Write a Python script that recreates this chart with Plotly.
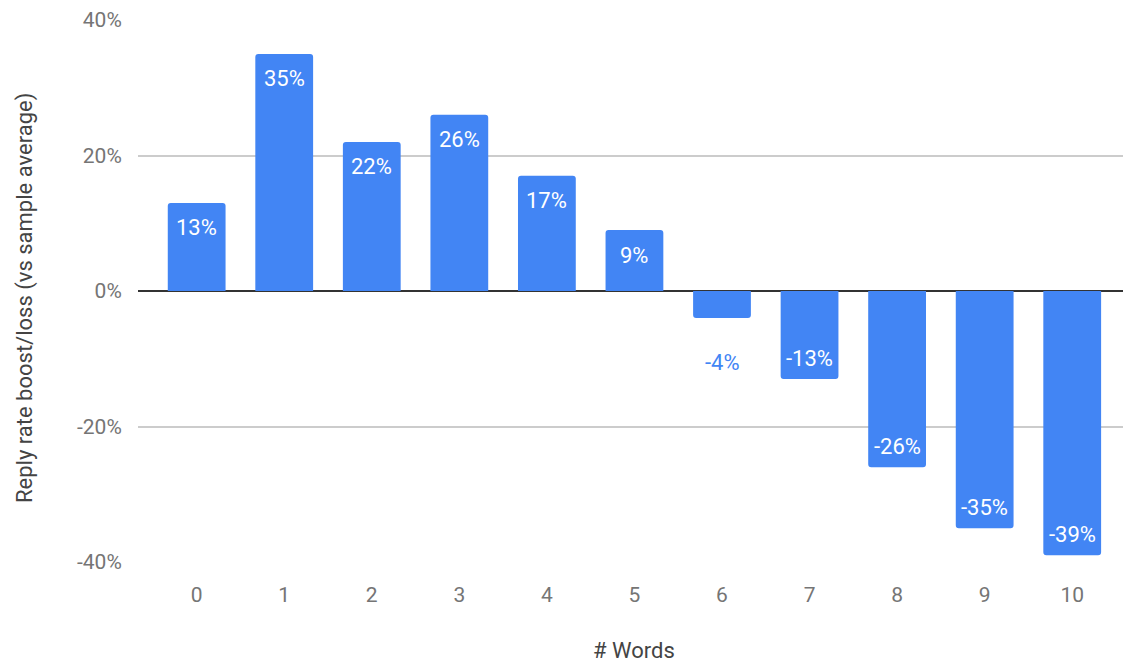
import plotly.graph_objects as go

# Reply-rate change by number of words
words = [0, 1, 2, 3, 4, 5, 6, 7, 8, 9, 10]
boost = [0.13, 0.35, 0.22, 0.26, 0.17, 0.09, -0.04, -0.13, -0.26, -0.35, -0.39]
y_ticks = [-0.4, -0.2, 0.0, 0.2, 0.4]
y_tick_text = ["-40%", "-20%", "0%", "20%", "40%"]

BAR = "#4285F4"
FONT = "Roboto"

fig = go.Figure(
    go.Bar(
        x=words,
        y=boost,
        width=0.66,
        marker=dict(color=BAR, line=dict(width=0), cornerradius=3),
        hoverinfo="skip",
    )
)

# Value labels: inside the bar end, except for short bars where they sit below
for w, v in zip(words, boost):
    text = f"{round(v * 100):d}%"
    if abs(v) < 0.08:
        shift, color = -44, BAR
    elif v >= 0:
        shift, color = -25, "white"
    else:
        shift, color = 21, "white"
    fig.add_annotation(
        x=w, y=v, text=text, showarrow=False, yshift=shift,
        font=dict(family=FONT, size=22, color=color),
        xanchor="center", yanchor="middle",
    )

# Axis titles
fig.add_annotation(
    xref="paper", yref="paper", x=(634 - 138) / 985, y=(562 - 651) / 542,
    text="# Words", showarrow=False, xanchor="center", yanchor="middle",
    font=dict(family=FONT, size=22, color="#444444"),
)
fig.add_annotation(
    xref="paper", yref="paper", x=(25 - 138) / 985, y=(562 - 298) / 542,
    text="Reply rate boost/loss (vs sample average)", showarrow=False,
    textangle=-90, xanchor="center", yanchor="middle",
    font=dict(family=FONT, size=22, color="#444444"),
)

fig.update_layout(
    width=1123,
    height=665,
    margin=dict(l=138, r=0, t=20, b=103),
    paper_bgcolor="white",
    plot_bgcolor="white",
    showlegend=False,
    font=dict(family=FONT, size=21, color="#757575"),
    xaxis=dict(
        range=[-0.67, 10.58],
        tickvals=words,
        ticktext=[str(w) for w in words],
        showgrid=False,
        zeroline=False,
        showline=False,
        ticks="outside",
        ticklen=14,
        tickcolor="rgba(0,0,0,0)",
        tickfont=dict(family=FONT, size=21, color="#757575"),
        fixedrange=True,
    ),
    yaxis=dict(
        range=[-0.4, 0.4],
        tickvals=y_ticks,
        ticktext=y_tick_text,
        showgrid=True,
        gridcolor="#CCCCCC",
        gridwidth=1.5,
        zeroline=True,
        zerolinecolor="#333333",
        zerolinewidth=1.5,
        showline=False,
        ticks="outside",
        ticklen=11,
        tickcolor="rgba(0,0,0,0)",
        tickfont=dict(family=FONT, size=21, color="#757575"),
        fixedrange=True,
    ),
)

fig.write_html("out.html", config={"displayModeBar": False})
